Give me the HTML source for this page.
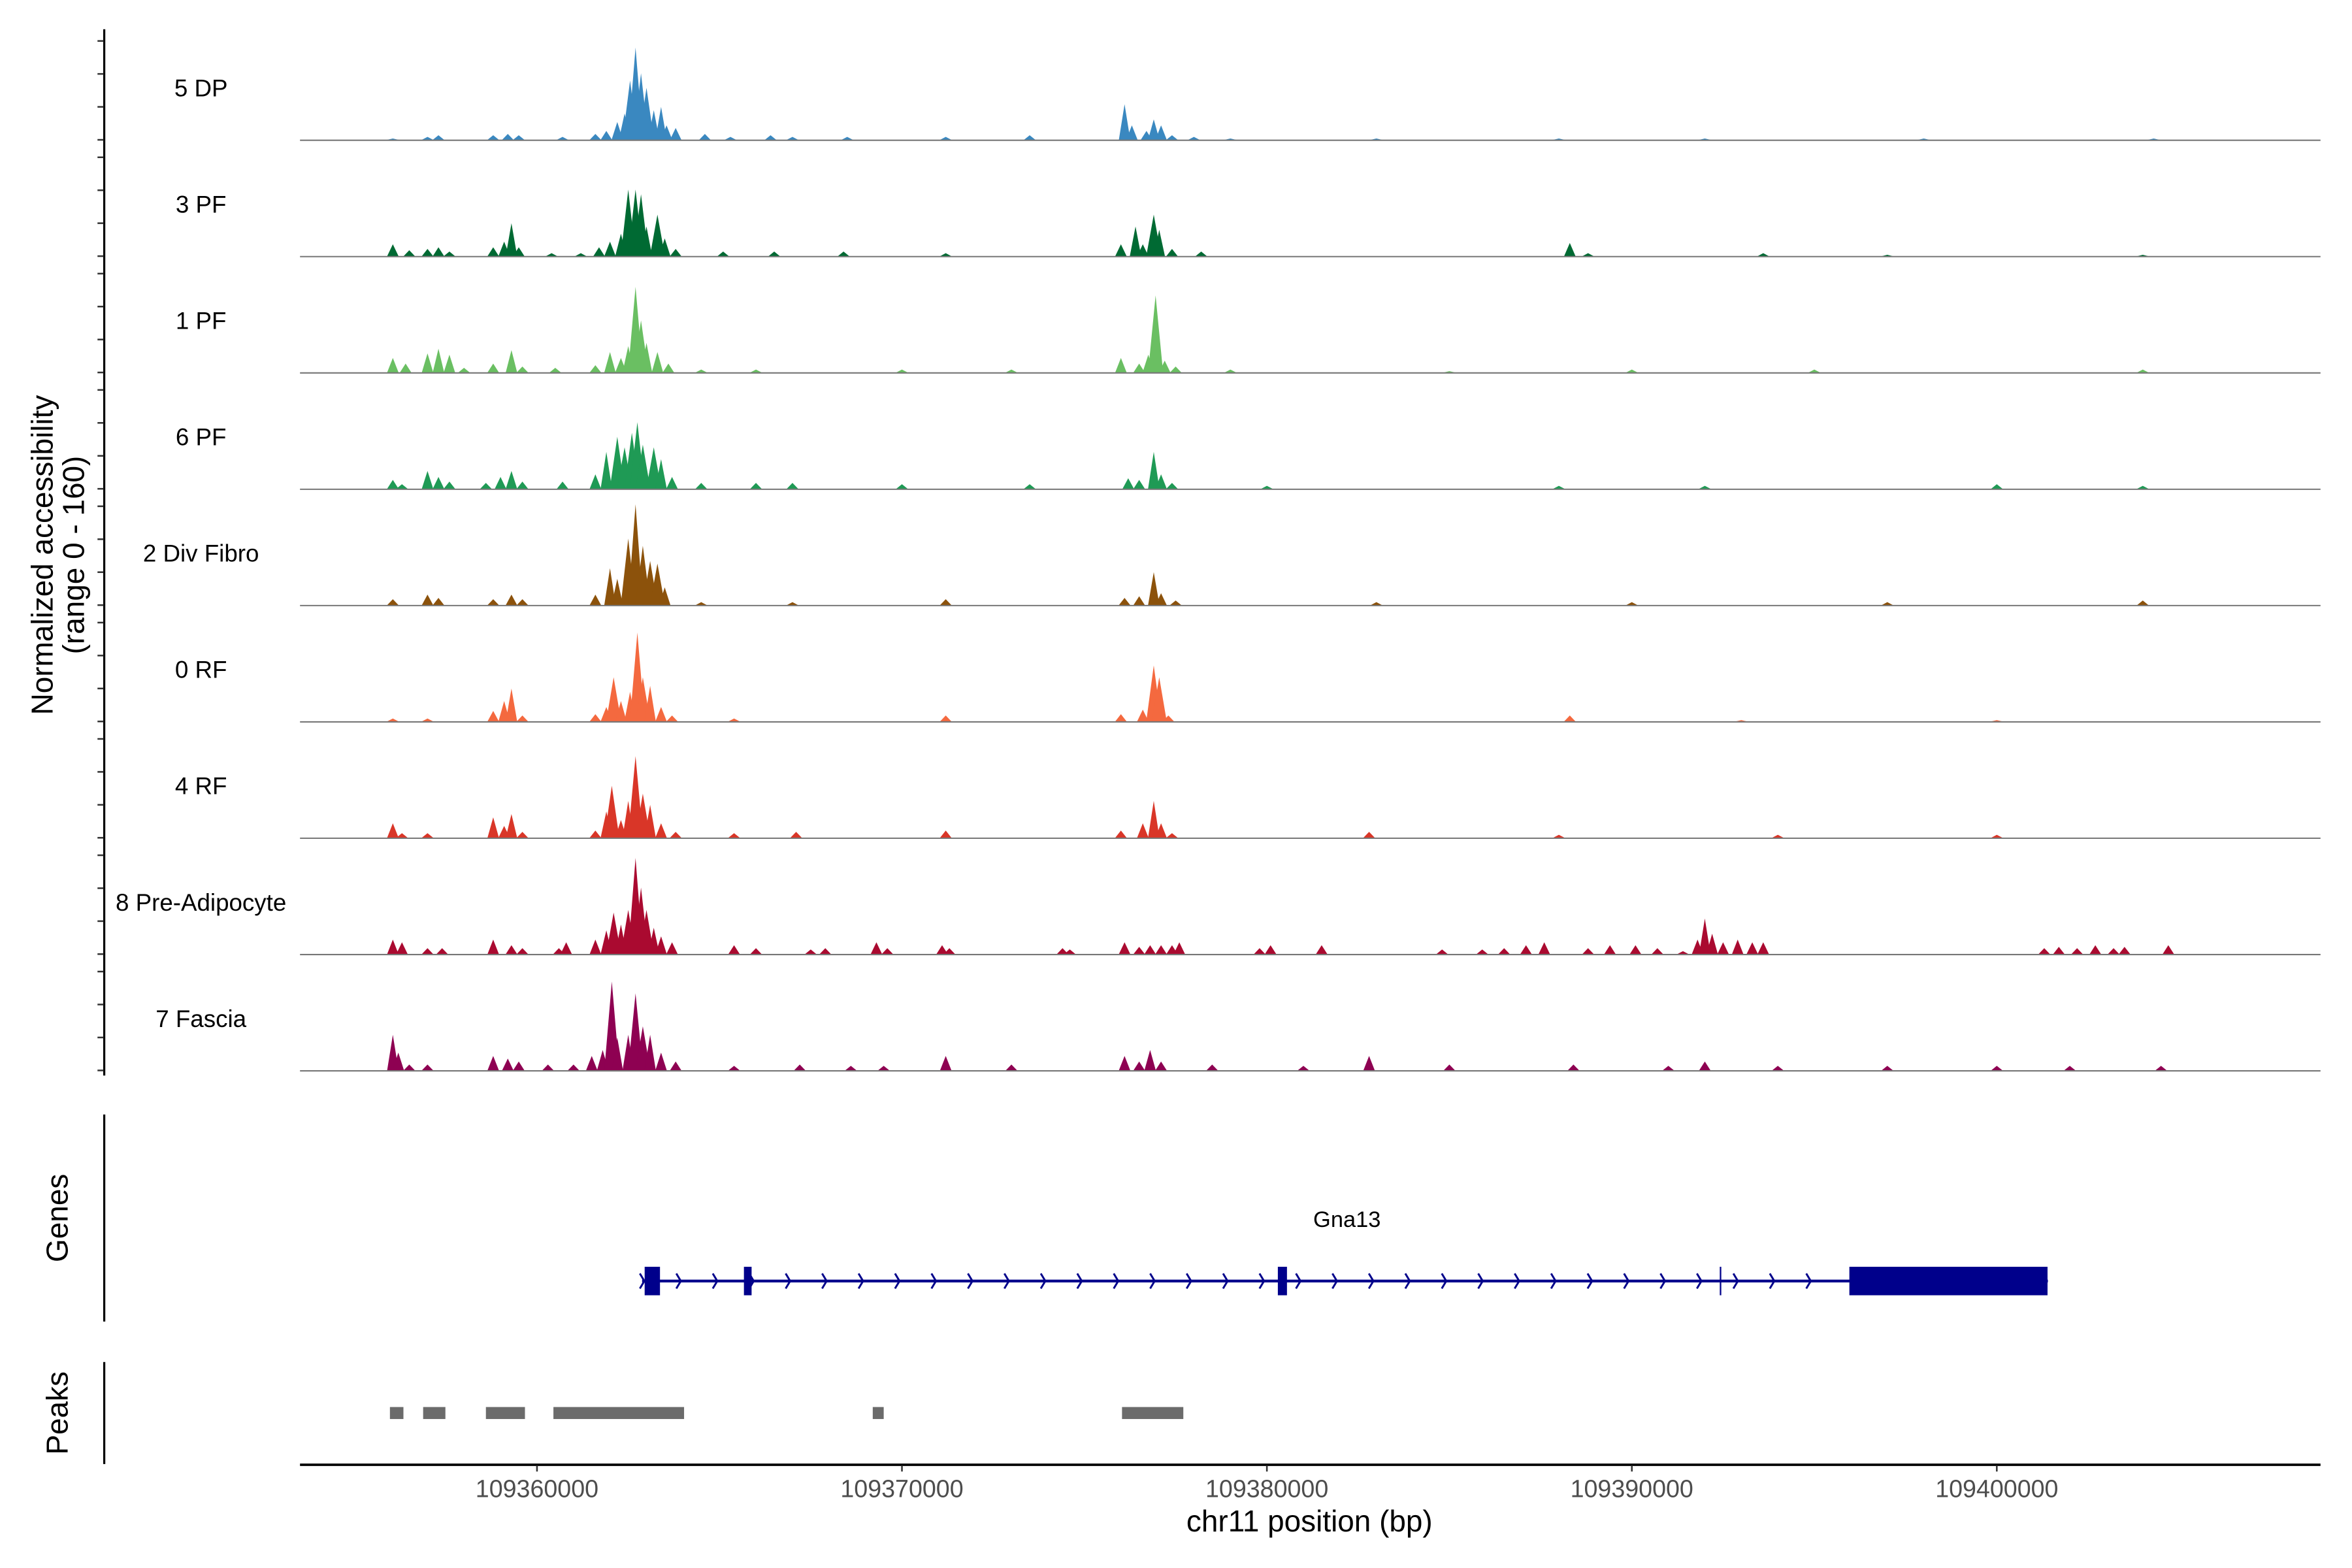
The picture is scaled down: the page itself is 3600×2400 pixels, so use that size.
<!DOCTYPE html>
<html><head><meta charset="utf-8"><style>
html,body{margin:0;padding:0;background:#fff}
svg{display:block;font-family:"Liberation Sans",sans-serif}
</style></head><body>
<svg id="chart" width="3600" height="2400" viewBox="0 0 1568 1045.3" xmlns="http://www.w3.org/2000/svg">
<g id="tracks"></g>
<g id="ylab">
<text transform="translate(35,370) rotate(-90)" text-anchor="middle" font-size="20">Normalized accessibility</text>
<text transform="translate(56,370) rotate(-90)" text-anchor="middle" font-size="20">(range 0 - 160)</text>
</g>
<line x1="69.5" y1="19.5" x2="69.5" y2="717" stroke="#000" stroke-width="1.4"/>
<line x1="69.5" y1="743" x2="69.5" y2="881" stroke="#000" stroke-width="1.4"/>
<text transform="translate(45,812) rotate(-90)" text-anchor="middle" font-size="20">Genes</text>
<line x1="69.5" y1="908" x2="69.5" y2="976" stroke="#000" stroke-width="1.4"/>
<text transform="translate(45,942) rotate(-90)" text-anchor="middle" font-size="20">Peaks</text>
<g id="genes"></g>
<g id="peaks"></g>
<line x1="200" y1="976.5" x2="1547" y2="976.5" stroke="#000" stroke-width="1.6"/>
<g id="xaxis"></g>
<text x="873" y="1021" text-anchor="middle" font-size="20">chr11 position (bp)</text>
</svg>
<script>
// positions in kb offset from 109,350,000; values in normalized accessibility units (0-160)
const trackNames = ["5 DP","3 PF","1 PF","6 PF","2 Div Fibro","0 RF","4 RF","8 Pre-Adipocyte","7 Fascia"];
const trackColors = ["#3a88c0","#006a33","#6abf62","#1f9a55","#8c520b","#f4693f","#d93628","#aa0a30","#8e0152"];
const dp5 = [[6.05,2],[7.0,4.5],[7.3,7],[8.8,7],[9.2,9],[9.5,7],[10.7,4.5],[11.6,9],[11.9,13.5],[12.2,27],[12.4,40],[12.55,90],[12.7,140],[12.85,101],[13.0,79],[13.2,45],[13.4,50],[13.55,22],[13.8,18],[14.6,9],[15.3,4.5],[16.4,7],[17.0,4.5],[18.5,4.5],[21.2,4.5],[23.5,7],[26.1,54],[26.3,22],[26.7,13.5],[26.9,31],[27.1,22],[27.4,7],[28.0,4.5],[29,2],[33,2],[38,2],[42,2],[48,2],[54.3,2]];
const pf3 = [[6.05,18],[6.5,9],[7.0,11],[7.3,13.5],[7.6,7],[8.8,13.5],[9.1,22],[9.3,50],[9.5,13.5],[10.4,4.5],[11.2,4.5],[11.7,13.5],[12.0,22],[12.3,34],[12.5,101],[12.7,101],[12.85,94],[13.0,45],[13.3,63],[13.5,27],[13.8,11],[15.1,7],[16.5,7],[18.4,7],[21.2,4.5],[26.0,18],[26.4,45],[26.6,18],[26.9,63],[27.05,40],[27.4,11],[28.2,7],[38.3,20],[38.8,4.5],[43.6,4.5],[47,2],[54,2]];
const pf1 = [[6.05,22],[6.4,13.5],[7.0,29],[7.3,36],[7.6,27],[8.0,7],[8.8,13.5],[9.3,34],[9.6,9],[10.5,7],[11.6,11],[12.0,31],[12.3,22],[12.5,40],[12.7,130],[12.85,79],[13.0,45],[13.3,31],[13.6,13.5],[14.5,4.5],[16,4.5],[20,4.5],[23,4.5],[26.0,22],[26.5,13.5],[26.75,27],[26.95,117],[27.2,18],[27.5,9],[29,4.5],[35,2],[40,4.5],[45,4.5],[54,4.5]];
const pf6 = [[6.05,13.5],[6.3,7],[7.0,27],[7.3,18],[7.6,11],[8.6,9],[9.0,18],[9.3,27],[9.6,11],[10.7,11],[11.6,22],[11.9,56],[12.2,79],[12.4,63],[12.6,85],[12.75,101],[12.9,67],[13.2,63],[13.4,45],[13.7,18],[14.5,9],[16,9],[17.0,9],[20,7],[23.5,7],[26.2,16],[26.5,13.5],[26.9,56],[27.1,22],[27.4,9],[30,4.5],[38,4.5],[42,4.5],[50,7],[54,4.5]];
const divFibro2 = [[6.05,9],[7.0,16],[7.3,11],[8.8,9],[9.3,16],[9.6,9],[11.6,16],[12.0,56],[12.2,40],[12.5,101],[12.7,153],[12.9,90],[13.1,67],[13.3,63],[13.5,27],[14.5,4.5],[17,4.5],[21.2,9],[26.1,11],[26.5,13.5],[26.9,50],[27.1,18],[27.5,7],[33,4.5],[40,4.5],[47,4.5],[54,7]];
const rf0 = [[6.05,4.5],[7.0,4.5],[8.8,16],[9.1,31],[9.3,50],[9.6,9],[11.6,11],[11.9,22],[12.1,67],[12.3,31],[12.55,45],[12.75,135],[12.9,67],[13.1,54],[13.4,22],[13.7,9],[15.4,4.5],[21.2,9],[26.0,11],[26.6,18],[26.9,85],[27.05,67],[27.3,9],[38.3,9],[43,2],[50,2]];
const rf4 = [[6.05,22],[6.3,7],[7.0,7],[8.8,31],[9.1,18],[9.3,36],[9.6,9],[11.6,11],[11.9,40],[12.05,79],[12.3,27],[12.5,56],[12.7,124],[12.9,67],[13.1,50],[13.4,22],[13.8,9],[15.4,7],[17.1,9],[21.2,11],[26.0,11],[26.6,22],[26.9,56],[27.1,22],[27.4,7],[32.8,9],[38,4.5],[44,4.5],[50,4.5]];
const preAdipo8 = [[6.05,22],[6.3,18],[7.0,9],[7.4,9],[8.8,22],[9.3,13.5],[9.6,9],[10.6,9],[10.8,18],[11.6,22],[11.9,36],[12.1,63],[12.3,45],[12.5,67],[12.7,146],[12.85,101],[13.0,67],[13.2,40],[13.4,27],[13.7,18],[15.4,13.5],[16.0,9],[17.5,7],[17.9,9],[19.3,18],[19.6,9],[21.1,13.5],[21.3,9],[24.4,9],[24.6,7],[26.1,18],[26.5,11],[26.8,13.5],[27.1,13.5],[27.4,13.5],[27.6,18],[29.8,9],[30.1,13.5],[31.5,13.5],[34.8,7],[35.9,7],[36.5,9],[37.1,13.5],[37.6,18],[38.8,9],[39.4,13.5],[40.1,13.5],[40.7,9],[41.4,4.5],[41.8,22],[42.0,54],[42.2,31],[42.5,18],[42.9,22],[43.3,18],[43.6,18],[51.3,9],[51.7,11],[52.2,9],[52.7,13.5],[53.2,9],[53.5,11],[54.7,13.5]];
const fascia7 = [[6.05,54],[6.2,27],[6.5,9],[7.0,9],[8.8,22],[9.2,18],[9.5,13.5],[10.3,9],[11.0,9],[11.5,22],[11.8,31],[12.05,135],[12.2,50],[12.5,54],[12.7,117],[12.9,67],[13.1,54],[13.4,27],[13.8,13.5],[15.4,7],[17.2,9],[18.6,7],[19.5,7],[21.2,22],[23,9],[26.1,22],[26.5,13.5],[26.8,31],[27.1,13.5],[28.5,9],[31,7],[32.8,22],[35,9],[38.4,9],[41,7],[42.0,13.5],[44,7],[47,7],[50,7],[52,7],[54.5,7]];
const trackData = [dp5,pf3,pf1,pf6,divFibro2,rf0,rf4,preAdipo8,fascia7];
const xTicks = [109360000,109370000,109380000,109390000,109400000];
const geneExons = [[12.95,13.37],[15.67,15.88],[30.3,30.55],[45.96,51.39]];
const geneSpan = [12.88,51.4];
const geneMark = [42.43];
const peakRegions = [[5.97,6.34],[6.88,7.49],[8.6,9.67],[10.45,14.03],[19.2,19.5],[26.03,27.71]];

const NS="http://www.w3.org/2000/svg";
const xs = kb => 358 + (kb-10)*24.33;
const xbp = bp => 358 + (bp-109360000)*0.02433;
const Y0 = 93.2, STEP = 77.55, PXU = 70.3/160;
const ys = (i,v) => Y0 + i*STEP - v*PXU;
function mk(tag, attrs, parent){const e=document.createElementNS(NS,tag);for(const k in attrs)e.setAttribute(k,attrs[k]);parent.appendChild(e);return e;}
const svg=document.getElementById('chart');
const tracks=document.getElementById('tracks');
for(let i=0;i<trackNames.length;i++){
  const g=mk('g',{},tracks);
  
  
  const base=ys(i,0);
  for(let k=0;k<4;k++){
    const t=mk('line',{x1:65,x2:69,y1:ys(i,k*50),y2:ys(i,k*50),stroke:'#333','stroke-width':1.1},svg);
    
    
  }
  const lbl=mk('text',{x:134,y:base-29,'text-anchor':'middle','font-size':16},g);
  lbl.textContent=trackNames[i];
  
  
  trackData[i].forEach(([p,v])=>{
    const w = v>60?5:3.8;
    const poly=mk('polygon',{points:`${xs(p)-w},${base} ${xs(p)},${ys(i,v)} ${xs(p)+w},${base}`,fill:trackColors[i]},g);
    
    
  });
  const bl=mk('line',{x1:200,x2:1547,y1:base+0.3,y2:base+0.3,stroke:'#777','stroke-width':0.9},g);
  
  
}
// genes
const gg=document.getElementById('genes');
const GY=854, C='#00008b';
const gl=mk('line',{x1:xs(geneSpan[0]),x2:xs(geneSpan[1]),y1:GY,y2:GY,stroke:C,'stroke-width':1.8},gg);


for(let x=xs(geneSpan[0]); x<xs(geneExons[3][0])-5; x+=24.3){
  const ch=mk('polyline',{points:`${x-1.5},${GY-5} ${x+1.5},${GY} ${x-1.5},${GY+5}`,fill:'none',stroke:C,'stroke-width':1.3},gg);
  
  
}
geneExons.forEach(([a,b])=>{
  const r=mk('rect',{x:xs(a),y:GY-9.5,width:Math.max(xs(b)-xs(a),3),height:19,fill:C},gg);
  
  
});
geneMark.forEach(p=>{
  const m=mk('line',{x1:xs(p),x2:xs(p),y1:GY-9.5,y2:GY+9.5,stroke:C,'stroke-width':1},gg);
  
  
});
const gn=mk('text',{x:898,y:818,'text-anchor':'middle','font-size':15},gg);
gn.textContent='Gna13';


// peaks
const pg=document.getElementById('peaks');
peakRegions.forEach(([a,b])=>{
  const r=mk('rect',{x:xs(a),y:938,width:xs(b)-xs(a),height:8,fill:'#6b6b6b'},pg);
  
  
});
// x axis
const xa=document.getElementById('xaxis');
xTicks.forEach(t=>{
  const x=xbp(t);
  const tk=mk('line',{x1:x,x2:x,y1:977,y2:981,stroke:'#333','stroke-width':1.1},xa);
  
  
  const tl=mk('text',{x:x-41,y:998,'text-anchor':'start','font-size':16.5,fill:'#4d4d4d',textLength:82,lengthAdjust:'spacingAndGlyphs'},xa);
  tl.textContent=String(t);
  
  
});
</script>
</body></html>
